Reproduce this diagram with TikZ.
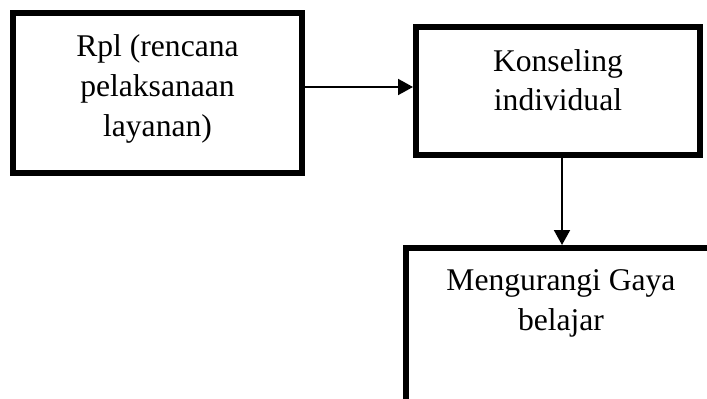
\documentclass[tikz,border=0pt]{standalone}
\usepackage{fontspec}
\setmainfont{Liberation Serif}
\usetikzlibrary{arrows.meta}
\begin{document}
\begin{tikzpicture}[x=1pt,y=-1pt,
  box/.style={draw=black,line width=6pt,fill=white,inner sep=0pt,rectangle},
  txt/.style={inner sep=0pt,anchor=base,font=\fontsize{31.6pt}{40pt}\selectfont},
  arr/.style={draw=black,line width=2pt,-{Triangle[length=15pt,width=16pt]}}]
\useasboundingbox (0,0) rectangle (707,399);
\clip (0,0) rectangle (707,399);
\node[box,minimum width=289pt,minimum height=160pt] (b1) at (157.5,93) {};
\node[box,minimum width=284pt,minimum height=128pt] (b2) at (558,91) {};
\node[box,minimum width=310pt,minimum height=182pt] (b3) at (561,339) {};
\node[txt] (t1a) at (157.5,56) {Rpl (rencana};
\node[txt] (t1b) at (157.5,96) {pelaksanaan};
\node[txt] (t1c) at (157.5,136) {layanan)};
\node[txt] (t2a) at (558,71) {Konseling};
\node[txt] (t2b) at (558,110) {individual};
\node[txt] (t3a) at (561,290) {Mengurangi Gaya};
\node[txt] (t3b) at (561,330) {belajar};
\draw[arr] ([yshift=6pt]b1.east) -- ([yshift=6pt]b1.east -| b2.west);
\draw[arr] ([xshift=4pt]b2.south) -- ([xshift=4pt]b2.south |- b3.north);
\end{tikzpicture}
\end{document}
